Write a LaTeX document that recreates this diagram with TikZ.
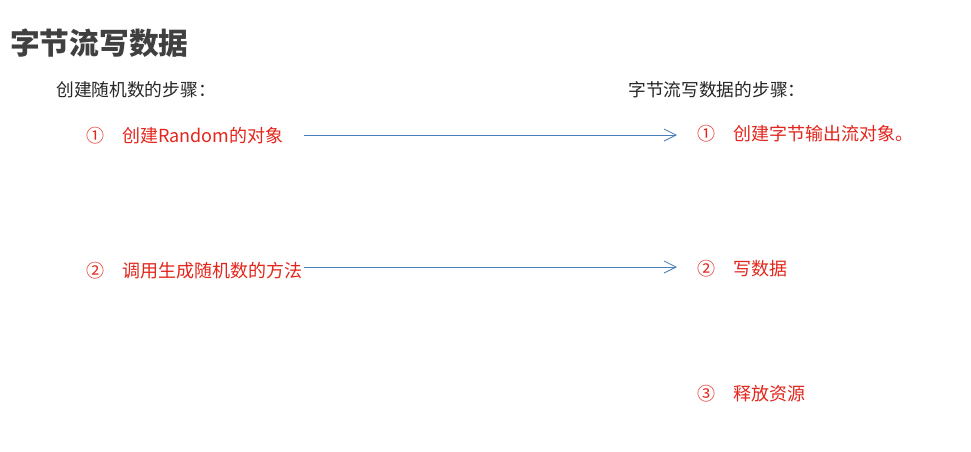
\documentclass[tikz,border=0pt]{standalone}
\usepackage{fontspec}
\setmainfont{Noto Sans CJK SC}
\usetikzlibrary{arrows.meta}
\definecolor{stepred}{RGB}{226,38,28}
\definecolor{flowblue}{RGB}{74,126,187}
\definecolor{titlegray}{RGB}{64,64,64}
\definecolor{headgray}{RGB}{38,38,38}
\tikzset{
  titletext/.style={anchor=west,inner sep=0pt,text=titlegray,font=\fontsize{22.3}{26}\selectfont\bfseries},
  headtext/.style={anchor=west,inner sep=0pt,text=headgray,font=\fontsize{13.3}{16}\selectfont},
  steptext/.style={anchor=west,inner sep=0pt,text=stepred,font=\fontsize{13.5}{16}\selectfont},
  flow/.style={draw=flowblue,line width=0.6pt,-{Straight Barb[length=9pt,width=9pt,line width=0.6pt]}}
}
\newcommand{\stepno}[2]{#1\hspace{1em}#2}

\begin{document}
\begin{tikzpicture}[x=0.75pt,y=0.75pt,yscale=-1,xscale=1]
\useasboundingbox[fill=white] (0,0) rectangle (971,451);

%title
\node[titletext] (title) at (10,43) {字节流写数据};

%left column
\node[headtext] (lhead) at (56,90) {创建随机数的步骤：};
\node[steptext] (l1) at (86,136) {\stepno{①}{创建Random的对象}};
\node[steptext] (l2) at (86,271) {\stepno{②}{调用生成随机数的方法}};

%right column
\node[headtext] (rhead) at (628,90) {字节流写数据的步骤：};
\node[steptext] (r1) at (697,134) {\stepno{①}{创建字节输出流对象。}};
\node[steptext] (r2) at (697,269) {\stepno{②}{写数据}};
\node[steptext] (r3) at (697,394) {\stepno{③}{释放资源}};

%arrows
\coordinate (s1) at (304,135);
\coordinate (e1) at (677,135);
\coordinate (s2) at (304,267);
\coordinate (e2) at (677,267);
\draw[flow] (s1) -- (e1);
\draw[flow] (s2) -- (e2);

\end{tikzpicture}
\end{document}
